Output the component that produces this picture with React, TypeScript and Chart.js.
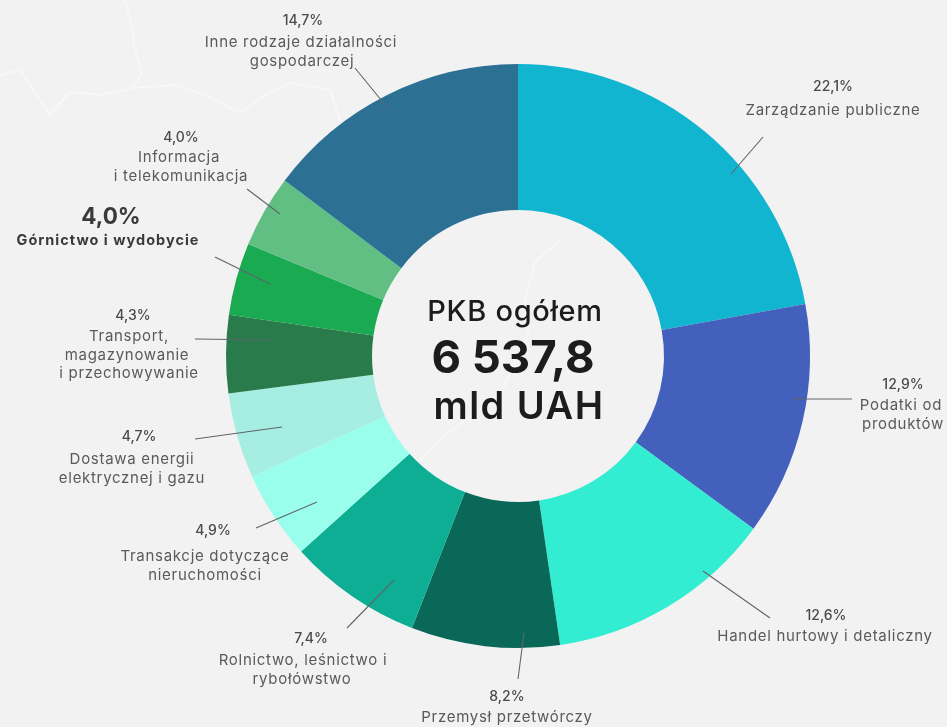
import React, { useEffect, useRef } from "react";
import { Chart, registerables } from "chart.js";

Chart.register(...registerables);

const categories = [
  "Zarządzanie publiczne",
  "Podatki od produktów",
  "Handel hurtowy i detaliczny",
  "Przemysł przetwórczy",
  "Rolnictwo, leśnictwo i rybołówstwo",
  "Transakcje dotyczące nieruchomości",
  "Dostawa energii elektrycznej i gazu",
  "Transport, magazynowanie i przechowywanie",
  "Górnictwo i wydobycie",
  "Informacja i telekomunikacja",
  "Inne rodzaje działalności gospodarczej",
];
const shares = [22.1, 12.9, 12.6, 8.2, 7.4, 4.9, 4.7, 4.3, 4.0, 4.0, 14.7];
const percentLabels = ["22,1%", "12,9%", "12,6%", "8,2%", "7,4%", "4,9%", "4,7%", "4,3%", "4,0%", "4,0%", "14,7%"];
const colors = ["#12B5D0", "#4361BC", "#33EDD3", "#0A6858", "#0DAE94", "#99FEEB", "#A5EEE1", "#2A7B4C", "#1AAB52", "#62BF84", "#2C7194"];

const FONT = "Inter, 'Noto Sans', sans-serif";
const TEXT = "#5a5a5a";

// Callout layout: [x, y, text] rows and the leader line, per category.
type Row = [number, number, string];
const callouts: { pct: [number, number]; rows: Row[]; line: number[]; bold?: boolean }[] = [
  { pct: [833, 87], rows: [[833, 110, "Zarządzanie publiczne"]], line: [763, 137, 731, 174] },
  { pct: [903, 385], rows: [[901, 405, "Podatki od"], [903, 424, "produktów"]], line: [792, 399, 852, 399] },
  { pct: [826, 616], rows: [[825, 636, "Handel hurtowy i detaliczny"]], line: [703, 571, 770, 618] },
  { pct: [507, 697], rows: [[507, 717, "Przemysł przetwórczy"]], line: [524, 633, 518, 679] },
  { pct: [311, 639], rows: [[303, 660, "Rolnictwo, leśnictwo i"], [302, 679, "rybołówstwo"]], line: [394, 580, 347, 628] },
  { pct: [213, 531], rows: [[205, 556, "Transakcje dotyczące"], [205, 575, "nieruchomości"]], line: [317, 502, 256, 528] },
  { pct: [139, 437], rows: [[132, 459, "Dostawa energii"], [132, 478, "elektrycznej i gazu"]], line: [282, 427, 195, 439] },
  { pct: [133, 316], rows: [[129, 336, "Transport,"], [127, 355, "magazynowanie"], [129, 373, "i przechowywanie"]], line: [195, 339, 270, 340] },
  { pct: [111, 217], rows: [[108, 241, "Górnictwo i wydobycie"]], line: [215, 257, 270, 284], bold: true },
  { pct: [181, 138], rows: [[179, 157, "Informacja"], [181, 176, "i telekomunikacja"]], line: [247, 189, 280, 214] },
  { pct: [303, 21], rows: [[301, 42, "Inne rodzaje działalności"], [302, 61, "gospodarczej"]], line: [355, 68, 386, 106] },
];

// Faint decorative map outline in the background.
const mapOutline = [
  [[125, 0], [130, 18], [135, 50], [142, 72], [133, 88], [100, 95], [70, 92], [50, 115], [20, 70], [0, 75]],
  [[135, 88], [175, 85], [205, 95], [240, 113], [265, 95], [290, 83], [330, 90], [340, 120]],
  [[560, 240], [535, 262], [525, 300], [528, 335], [500, 395], [445, 435], [410, 470]],
];

const centerText: [number, number, string, string, string][] = [
  [515, 312, "PKB ogółem", `500 29px ${FONT}`, "0.7px"],
  [513, 359, "6 537,8", `700 45.5px ${FONT}`, "0px"],
  [519, 408, "mld UAH", `600 38px ${FONT}`, "1.5px"],
];

const overlay = {
  id: "overlay",
  beforeDraw(chart: any) {
    const c = chart.ctx;
    c.save();
    c.fillStyle = "#f2f2f2";
    c.fillRect(0, 0, chart.width, chart.height);
    c.strokeStyle = "rgba(255,255,255,0.4)";
    c.lineWidth = 2;
    c.lineJoin = "round";
    mapOutline.forEach((p) => {
      c.beginPath();
      p.forEach(([x, y], i) => (i ? c.lineTo(x, y) : c.moveTo(x, y)));
      c.stroke();
    });
    c.restore();
  },
  afterDraw(chart: any) {
    const c = chart.ctx;
    c.save();
    c.textAlign = "center";
    c.textBaseline = "middle";
    callouts.forEach((o, i) => {
      c.strokeStyle = "#5f6668";
      c.lineWidth = 1.1;
      c.beginPath();
      c.moveTo(o.line[0], o.line[1]);
      c.lineTo(o.line[2], o.line[3]);
      c.stroke();
      c.fillStyle = o.bold ? "#3a3a3a" : "#4a4a4a";
      c.letterSpacing = "0px";
      c.font = o.bold ? `700 22.5px ${FONT}` : `500 14px ${FONT}`;
      c.fillText(percentLabels[i], o.pct[0], o.pct[1]);
      c.fillStyle = o.bold ? "#3a3a3a" : TEXT;
      c.letterSpacing = o.bold ? "1px" : "0.7px";
      c.font = o.bold ? `700 14.5px ${FONT}` : `400 15px ${FONT}`;
      o.rows.forEach(([x, y, t]) => c.fillText(t, x, y));
    });
    c.fillStyle = "#1c1c1c";
    centerText.forEach(([x, y, t, f, s]) => {
      c.font = f;
      c.letterSpacing = s;
      c.fillText(t, x, y);
    });
    c.restore();
  },
};

export default function App() {
  const ref = useRef<HTMLCanvasElement>(null);
  useEffect(() => {
    document.body.style.margin = "0";
    const chart = new Chart(ref.current!, {
      type: "doughnut",
      data: {
        labels: categories,
        datasets: [{ data: shares, backgroundColor: colors, borderWidth: 0 }],
      },
      options: {
        responsive: false,
        animation: false,
        cutout: "50%",
        layout: { padding: { left: 226, right: 137, top: 64, bottom: 79 } },
        plugins: { legend: { display: false }, tooltip: { enabled: false } },
      },
      plugins: [overlay],
    } as any);
    return () => chart.destroy();
  }, []);
  return <canvas ref={ref} width={947} height={727} style={{ display: "block" }} />;
}
